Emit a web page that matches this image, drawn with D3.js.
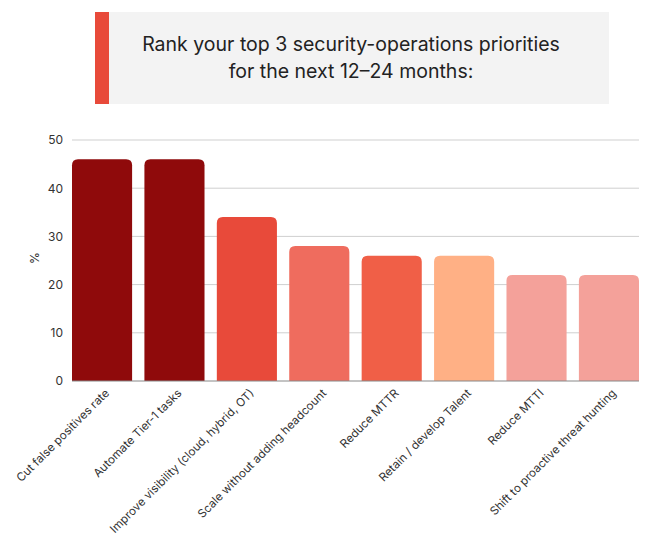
<!DOCTYPE html>
<html>
<head>
<meta charset="utf-8">
<script src="https://cdn.jsdelivr.net/npm/d3@7"></script>
<style>
  html, body { margin: 0; padding: 0; background: #fff; }
  svg { display: block; font-family: Inter, "Noto Sans", sans-serif; }
</style>
</head>
<body>
<svg id="chart" width="646" height="533"></svg>
<script>
// Survey results: share of respondents ranking each priority in their top 3
const categories = [
  "Cut false positives rate",
  "Automate Tier-1 tasks",
  "Improve visibility (cloud, hybrid, OT)",
  "Scale without adding headcount",
  "Reduce MTTR",
  "Retain / develop Talent",
  "Reduce MTTI",
  "Shift to proactive threat hunting"
];
const values = [46, 46, 34, 28, 26, 26, 22, 22];
const barColors = ["#8f0a0b", "#8f0a0b", "#e84a3a", "#ef6c5e", "#f05f47", "#ffb085", "#f4a19a", "#f4a19a"];
const yTicks = [0, 10, 20, 30, 40, 50];
const titleLines = ["Rank your top 3 security-operations priorities", "for the next 12\u201324 months:"];

const svg = d3.select("#chart");

// Title panel with accent strip
svg.append("rect").attr("x", 95).attr("y", 12).attr("width", 514).attr("height", 92).attr("fill", "#f3f3f3");
svg.append("rect").attr("x", 95).attr("y", 12).attr("width", 14).attr("height", 92).attr("fill", "#e84a3a");
svg.append("text")
  .attr("x", 351).attr("y", 51)
  .attr("text-anchor", "middle")
  .attr("font-size", 19.5)
  .attr("fill", "#222")
  .selectAll("tspan")
  .data(titleLines)
  .join("tspan")
  .attr("x", 351)
  .attr("dy", (d, i) => i === 0 ? 0 : 27)
  .text(d => d);

// Plot area
const plotLeft = 72, plotRight = 639, plotTop = 140, plotBottom = 381;

const x = d3.scaleBand().domain(categories).range([plotLeft, plotRight]).paddingInner(0.17).paddingOuter(0);
const y = d3.scaleLinear().domain([0, 50]).range([plotBottom, plotTop]);

// Gridlines
svg.append("g")
  .selectAll("line")
  .data(yTicks.filter(t => t > 0))
  .join("line")
  .attr("x1", plotLeft).attr("x2", plotRight)
  .attr("y1", d => y(d)).attr("y2", d => y(d))
  .attr("stroke", "#cfcfcf").attr("stroke-width", 1);

// Y axis labels
const yAxis = svg.append("g")
  .attr("transform", `translate(${plotLeft},0)`)
  .call(d3.axisLeft(y).tickValues(yTicks).tickSize(0).tickPadding(9));
yAxis.attr("font-size", 12).attr("font-family", "Inter, 'Noto Sans', sans-serif");
yAxis.select(".domain").remove();
yAxis.selectAll("text").attr("fill", "#333");

svg.append("text")
  .attr("transform", "translate(39,258) rotate(-90)")
  .attr("text-anchor", "middle")
  .attr("font-size", 12)
  .attr("fill", "#333")
  .text("%");

// Bars with rounded top corners
const r = 6;
function barPath(d, i) {
  const x0 = x(categories[i]), w = x.bandwidth();
  const y0 = y(d), y1 = y(0);
  return `M${x0},${y1}V${y0 + r}Q${x0},${y0} ${x0 + r},${y0}H${x0 + w - r}Q${x0 + w},${y0} ${x0 + w},${y0 + r}V${y1}Z`;
}
svg.append("g")
  .selectAll("path")
  .data(values)
  .join("path")
  .attr("d", barPath)
  .attr("fill", (d, i) => barColors[i]);

// Baseline
svg.append("line")
  .attr("x1", plotLeft).attr("x2", plotRight)
  .attr("y1", y(0)).attr("y2", y(0))
  .attr("stroke", "#888").attr("stroke-width", 1);

// Category labels, rotated
const xAxis = svg.append("g")
  .attr("transform", `translate(0,${plotBottom})`)
  .call(d3.axisBottom(x).tickSize(0).tickPadding(0));
xAxis.attr("font-size", 11.6).attr("font-family", "Inter, 'Noto Sans', sans-serif");
xAxis.select(".domain").remove();
xAxis.selectAll("text")
  .attr("fill", "#333")
  .attr("text-anchor", "end")
  .attr("dy", "0.35em")
  .attr("transform", "translate(5,10) rotate(-45)");
</script>
</body>
</html>
